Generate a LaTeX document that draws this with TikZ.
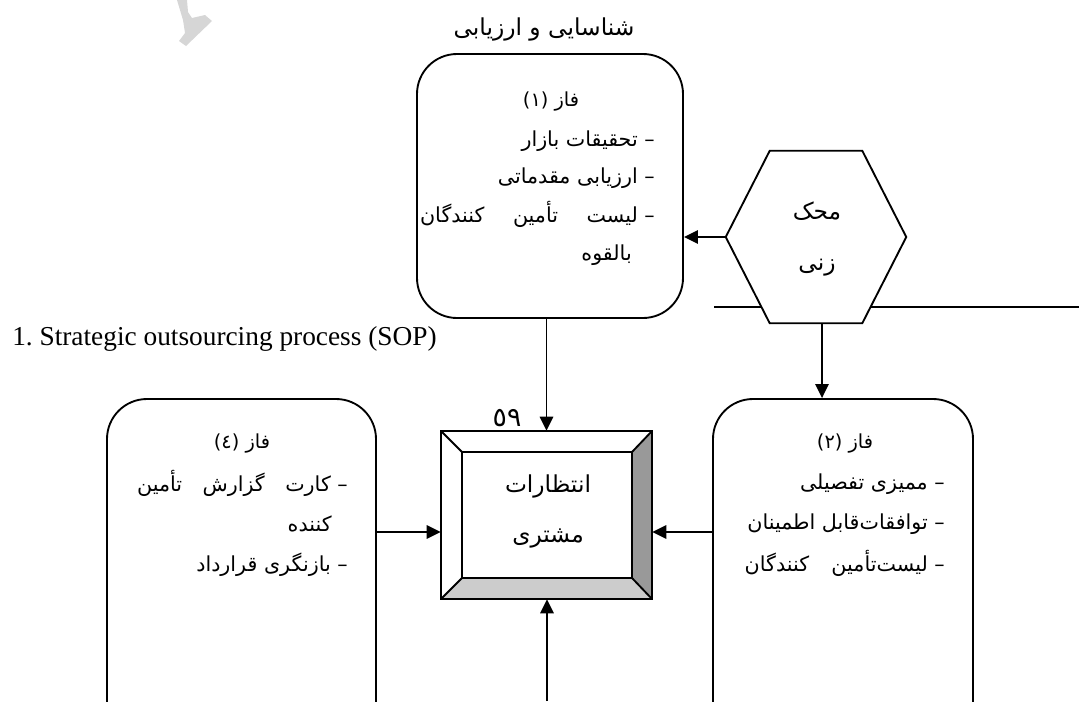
\documentclass[tikz,border=0pt]{standalone}
\usepackage{fontspec}
\setmainfont{Liberation Serif}
\newfontfamily\arabicfont[Script=Arabic]{DejaVu Sans}
\TeXXeTstate=1
\frenchspacing
\usetikzlibrary{arrows.meta,calc}

\definecolor{bevdark}{HTML}{999999}
\definecolor{bevlight}{HTML}{CCCCCC}
\definecolor{markgray}{HTML}{D6D6D6}

\newcommand{\fa}[1]{{\arabicfont\beginR #1\endR}}

\tikzset{
  line/.style={line width=1.4pt},
  arr/.style={line width=1.4pt,-{Triangle[length=10.5pt,width=10pt]}},
  phasebox/.style={draw,line width=1.4pt,rounded corners=30pt,fill=white,inner sep=0pt},
  body/.style={font=\arabicfont\fontsize{15.5}{18}\selectfont,inner sep=0pt},
  head/.style={font=\arabicfont\fontsize{14.5}{17}\selectfont,inner sep=0pt},
  big/.style={font=\arabicfont\fontsize{17.5}{20}\selectfont,inner sep=0pt},
}

\begin{document}
\begin{tikzpicture}[x=0.75pt,y=-0.75pt]
\useasboundingbox (0,0) rectangle (1079,701);
\clip (0,0) rectangle (1079,701);

% faint mark in the upper left corner
\fill[markgray] (177,0) -- (187,0) -- (188,12) -- (192,18) -- (205,15) -- (212,21)
  -- (186,46) -- (179,41) -- (185,33) -- (183,20) -- cycle;

% title over phase 1
\node[font=\arabicfont\fontsize{17.5}{21}\selectfont,inner sep=0pt] (title) at (544,29) {\fa{شناسایی و ارزیابی}};

% phase boxes
\node[phasebox,minimum width=199.5pt,minimum height=198pt] (p1) at (550,186) {};
\node[phasebox,minimum width=195pt,minimum height=300pt] (p2) at (843,599) {};
\node[phasebox,minimum width=201.75pt,minimum height=300pt] (p4) at (241.5,599) {};

% line behind the hexagon
\coordinate (hl) at (714,307);
\coordinate (hr) at (1079,307);
\draw[line] (hl) -- (hr);

% hexagon
\node[minimum width=135pt,minimum height=129pt,inner sep=0pt] (hex) at (816,237) {};
\filldraw[line,fill=white] (hex.west) -- ($(hex.north west)+(44,0)$) -- ($(hex.north east)+(-44,0)$)
  -- (hex.east) -- ($(hex.south east)+(-44,0)$) -- ($(hex.south west)+(44,0)$) -- cycle;
\node[big,anchor=base] (hexa) at (817,219) {\fa{محک}};
\node[big,anchor=base] (hexb) at (817,270) {\fa{زنی}};

% bevelled centre box
\node[minimum width=158.25pt,minimum height=126pt,inner sep=0pt] (ctr) at (546.5,515) {};
\node[minimum width=127.5pt,minimum height=94.5pt,inner sep=0pt] (ctrin) at (547,515) {};
\fill[bevdark] (ctr.north east) -- (ctr.south east) -- (ctrin.south east) -- (ctrin.north east) -- cycle;
\fill[bevlight] (ctr.south west) -- (ctr.south east) -- (ctrin.south east) -- (ctrin.south west) -- cycle;
\draw[line] (ctr.north west) rectangle (ctr.south east);
\draw[line] (ctrin.north west) rectangle (ctrin.south east);
\draw[line] (ctr.north west) -- (ctrin.north west);
\draw[line] (ctr.north east) -- (ctrin.north east);
\draw[line] (ctr.south west) -- (ctrin.south west);
\draw[line] (ctr.south east) -- (ctrin.south east);
\node[big,anchor=base] (ctra) at (548,492) {\fa{انتظارات}};
\node[big,anchor=base] (ctrb) at (548,542) {\fa{مشتری}};
\node[font=\arabicfont\fontsize{20}{24}\selectfont,inner sep=0pt,anchor=base] (pg) at (507,426) {٥٩};

% phase 1 text
\node[head,anchor=base] (p1h) at (551,106) {(۱) \fa{فاز}};
\node[body,anchor=base east] (p1a) at (655,146) {\fa{– تحقیقات بازار}};
\node[body,anchor=base east] (p1b) at (655,183) {\fa{– ارزیابی مقدماتی}};
\node[body,anchor=base east] (p1c) at (655,222) {\hbox to 176pt{\beginR –\ لیست\hfill تأمین\hfill کنندگان\endR}};
\node[body,anchor=base east] (p1d) at (632,260) {\fa{بالقوه}};

% phase 2 text
\node[head,anchor=base] (p2h) at (845,448) {(۲) \fa{فاز}};
\node[body,anchor=base east] (p2a) at (945,489) {\fa{– ممیزی تفصیلی}};
\node[body,anchor=base east] (p2b) at (945,529) {\fa{– توافقات‌قابل اطمینان}};
\node[body,anchor=base east] (p2c) at (945,571) {\hbox to 150pt{\beginR –\ لیست‌تأمین\hfill کنندگان\endR}};

% phase 4 text
\node[head,anchor=base] (p4h) at (242,448) {(٤) \fa{فاز}};
\node[body,anchor=base east] (p4a) at (348,491) {\hbox to 158pt{\beginR –\ کارت\hfill گزارش\hfill تأمین\endR}};
\node[body,anchor=base east] (p4b) at (332,531) {\fa{کننده}};
\node[body,anchor=base east] (p4c) at (348,571) {\fa{– بازنگری قرارداد}};

% caption line
\node[anchor=base west,inner sep=0pt,font=\fontsize{20.5}{24}\selectfont] (sop) at (12,345) {1. Strategic outsourcing process (SOP)};

% connectors
\coordinate (hs) at ($(hex.south)+(6,0)$);
\draw[arr] (hex.west) -- (hex.west -| p1.east);
\draw[arr] (hs) -- (hs |- p2.north);
\draw[arr] (ctr.north |- p1.south) -- (ctr.north);
\coordinate (bot) at (547,701);
\draw[arr] (bot) -- (bot |- ctr.south);
\coordinate (ly) at (0,532);
\draw[arr] (p4.east |- ly) -- (ctr.west |- ly);
\draw[arr] (p2.west |- ly) -- (ctr.east |- ly);
\end{tikzpicture}
\end{document}
